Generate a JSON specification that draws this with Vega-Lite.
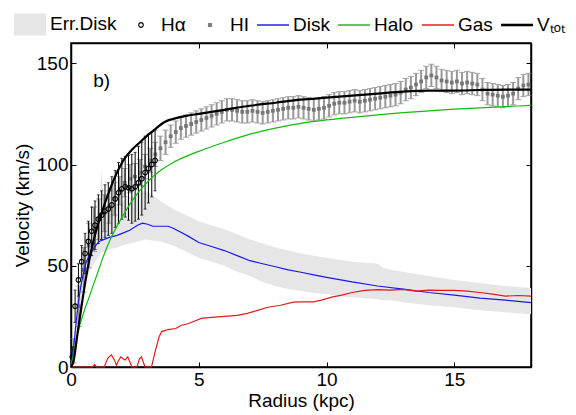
{
  "$schema": "https://vega.github.io/schema/vega-lite/v6.json",
  "width": 460,
  "height": 324,
  "autosize": {"type": "none"},
  "padding": {"left": 71, "top": 43, "right": 45, "bottom": 48},
  "background": "white",
  "config": {
    "font": "Liberation Sans",
    "view": {"stroke": "black", "strokeWidth": 1.5},
    "style": {"guide-title": {"fontWeight": "normal"}, "guide-label": {"fontWeight": "normal"}},
    "axis": {
      "domainColor": "black", "domainWidth": 1.5, "tickColor": "black", "tickSize": -5, "tickWidth": 1,
      "labelFontSize": 19, "labelColor": "black", "labelFont": "Liberation Sans", "labelPadding": 8,
      "titleFontSize": 19, "titleFontWeight": "normal", "titleColor": "black", "titleFont": "Liberation Sans",
      "grid": false, "labelFlush": false
    }
  },
  "datasets": {
    "band": [
      {"r": 0, "lo": 0, "hi": 0}, {"r": 0.1, "lo": 5, "hi": 12}, {"r": 0.2, "lo": 15, "hi": 30}, {"r": 0.3, "lo": 24, "hi": 42},
      {"r": 0.4, "lo": 32, "hi": 52}, {"r": 0.5, "lo": 38, "hi": 58}, {"r": 0.6, "lo": 43, "hi": 63}, {"r": 0.8, "lo": 49, "hi": 70},
      {"r": 1.0, "lo": 53, "hi": 75}, {"r": 1.1, "lo": 55, "hi": 78}, {"r": 1.15, "lo": 56, "hi": 90}, {"r": 1.2, "lo": 56, "hi": 97},
      {"r": 1.25, "lo": 57, "hi": 88}, {"r": 1.3, "lo": 57, "hi": 81}, {"r": 1.5, "lo": 58, "hi": 80}, {"r": 1.8, "lo": 59, "hi": 81},
      {"r": 2.0, "lo": 60, "hi": 82}, {"r": 2.3, "lo": 61, "hi": 84}, {"r": 2.6, "lo": 62, "hi": 86}, {"r": 2.9, "lo": 63, "hi": 87},
      {"r": 3.2, "lo": 62.5, "hi": 85}, {"r": 3.5, "lo": 62, "hi": 82}, {"r": 4.0, "lo": 60, "hi": 78}, {"r": 4.5, "lo": 57, "hi": 75},
      {"r": 5.0, "lo": 54, "hi": 72}, {"r": 5.5, "lo": 52, "hi": 70}, {"r": 6.0, "lo": 50, "hi": 68}, {"r": 6.5, "lo": 47, "hi": 65.5},
      {"r": 7.0, "lo": 45, "hi": 63}, {"r": 7.5, "lo": 42, "hi": 61}, {"r": 8.0, "lo": 40, "hi": 59}, {"r": 8.5, "lo": 38.5, "hi": 57.5},
      {"r": 9.0, "lo": 37.5, "hi": 56}, {"r": 9.5, "lo": 36.5, "hi": 55}, {"r": 10, "lo": 36, "hi": 54}, {"r": 10.5, "lo": 35, "hi": 53},
      {"r": 11, "lo": 34.5, "hi": 52}, {"r": 11.5, "lo": 34, "hi": 51.5}, {"r": 12, "lo": 33.5, "hi": 51}, {"r": 12.2, "lo": 33, "hi": 49},
      {"r": 12.5, "lo": 33, "hi": 48}, {"r": 13, "lo": 32, "hi": 47}, {"r": 14, "lo": 30.5, "hi": 45}, {"r": 15, "lo": 29.5, "hi": 43},
      {"r": 16, "lo": 28, "hi": 41.5}, {"r": 17, "lo": 27, "hi": 40}, {"r": 18, "lo": 26, "hi": 39}
    ],
    "curves": [
      {"s": "Disk", "r": 0, "v": 0}, {"s": "Disk", "r": 0.1, "v": 9}, {"s": "Disk", "r": 0.2, "v": 22}, {"s": "Disk", "r": 0.3, "v": 33},
      {"s": "Disk", "r": 0.4, "v": 41}, {"s": "Disk", "r": 0.5, "v": 47}, {"s": "Disk", "r": 0.6, "v": 52}, {"s": "Disk", "r": 0.75, "v": 56},
      {"s": "Disk", "r": 0.9, "v": 59}, {"s": "Disk", "r": 1.1, "v": 62}, {"s": "Disk", "r": 1.3, "v": 63}, {"s": "Disk", "r": 1.5, "v": 64},
      {"s": "Disk", "r": 1.8, "v": 65}, {"s": "Disk", "r": 2.0, "v": 66}, {"s": "Disk", "r": 2.3, "v": 67.5}, {"s": "Disk", "r": 2.6, "v": 70},
      {"s": "Disk", "r": 2.8, "v": 71}, {"s": "Disk", "r": 3.0, "v": 70.5}, {"s": "Disk", "r": 3.2, "v": 69.5}, {"s": "Disk", "r": 3.5, "v": 69.5},
      {"s": "Disk", "r": 3.8, "v": 69.5}, {"s": "Disk", "r": 4.0, "v": 68.5}, {"s": "Disk", "r": 4.3, "v": 66.5}, {"s": "Disk", "r": 4.6, "v": 64.5},
      {"s": "Disk", "r": 5.0, "v": 61.5}, {"s": "Disk", "r": 5.5, "v": 59.5}, {"s": "Disk", "r": 6.0, "v": 57.5}, {"s": "Disk", "r": 6.5, "v": 55},
      {"s": "Disk", "r": 7.0, "v": 52.5}, {"s": "Disk", "r": 7.5, "v": 51}, {"s": "Disk", "r": 8.0, "v": 49.5}, {"s": "Disk", "r": 8.5, "v": 48},
      {"s": "Disk", "r": 9.0, "v": 46.8}, {"s": "Disk", "r": 9.5, "v": 45.5}, {"s": "Disk", "r": 10, "v": 44.3}, {"s": "Disk", "r": 11, "v": 42},
      {"s": "Disk", "r": 12, "v": 40}, {"s": "Disk", "r": 13, "v": 38.5}, {"s": "Disk", "r": 14, "v": 36.8}, {"s": "Disk", "r": 15, "v": 35.5},
      {"s": "Disk", "r": 16, "v": 34}, {"s": "Disk", "r": 17, "v": 33}, {"s": "Disk", "r": 18, "v": 31.8},

      {"s": "Halo", "r": 0, "v": 0}, {"s": "Halo", "r": 0.25, "v": 16}, {"s": "Halo", "r": 0.5, "v": 27}, {"s": "Halo", "r": 0.75, "v": 36},
      {"s": "Halo", "r": 1.0, "v": 45}, {"s": "Halo", "r": 1.25, "v": 54}, {"s": "Halo", "r": 1.5, "v": 62}, {"s": "Halo", "r": 2.0, "v": 74},
      {"s": "Halo", "r": 2.5, "v": 84}, {"s": "Halo", "r": 3.0, "v": 91.5}, {"s": "Halo", "r": 3.5, "v": 97}, {"s": "Halo", "r": 4.0, "v": 101},
      {"s": "Halo", "r": 4.5, "v": 104}, {"s": "Halo", "r": 5.0, "v": 106.5}, {"s": "Halo", "r": 6.0, "v": 111}, {"s": "Halo", "r": 7.0, "v": 115},
      {"s": "Halo", "r": 8.0, "v": 118}, {"s": "Halo", "r": 9.0, "v": 120.3}, {"s": "Halo", "r": 10, "v": 122}, {"s": "Halo", "r": 11, "v": 123.3},
      {"s": "Halo", "r": 12, "v": 124.5}, {"s": "Halo", "r": 13, "v": 125.6}, {"s": "Halo", "r": 14, "v": 126.5}, {"s": "Halo", "r": 15, "v": 127.3},
      {"s": "Halo", "r": 16, "v": 128}, {"s": "Halo", "r": 17, "v": 128.6}, {"s": "Halo", "r": 18, "v": 129.2},

      {"s": "Gas", "r": 0, "v": 0}, {"s": "Gas", "r": 0.85, "v": 0}, {"s": "Gas", "r": 0.92, "v": 1.2}, {"s": "Gas", "r": 1.0, "v": 0},
      {"s": "Gas", "r": 1.3, "v": 0}, {"s": "Gas", "r": 1.45, "v": 4.5}, {"s": "Gas", "r": 1.58, "v": 6}, {"s": "Gas", "r": 1.7, "v": 3.5},
      {"s": "Gas", "r": 1.78, "v": 0.8}, {"s": "Gas", "r": 1.85, "v": 3}, {"s": "Gas", "r": 1.95, "v": 5}, {"s": "Gas", "r": 2.05, "v": 4},
      {"s": "Gas", "r": 2.12, "v": 3.5}, {"s": "Gas", "r": 2.22, "v": 5}, {"s": "Gas", "r": 2.32, "v": 2}, {"s": "Gas", "r": 2.38, "v": 0},
      {"s": "Gas", "r": 2.58, "v": 0}, {"s": "Gas", "r": 2.68, "v": 4}, {"s": "Gas", "r": 2.76, "v": 5}, {"s": "Gas", "r": 2.84, "v": 2},
      {"s": "Gas", "r": 2.9, "v": 0}, {"s": "Gas", "r": 3.15, "v": 0}, {"s": "Gas", "r": 3.3, "v": 8}, {"s": "Gas", "r": 3.45, "v": 15},
      {"s": "Gas", "r": 3.55, "v": 17.5}, {"s": "Gas", "r": 3.8, "v": 18.5}, {"s": "Gas", "r": 4.1, "v": 19}, {"s": "Gas", "r": 4.3, "v": 20.5},
      {"s": "Gas", "r": 4.6, "v": 21.5}, {"s": "Gas", "r": 4.8, "v": 22.5}, {"s": "Gas", "r": 5.1, "v": 24}, {"s": "Gas", "r": 5.5, "v": 24.5},
      {"s": "Gas", "r": 6.0, "v": 25}, {"s": "Gas", "r": 6.5, "v": 25.5}, {"s": "Gas", "r": 6.9, "v": 26.5}, {"s": "Gas", "r": 7.3, "v": 28},
      {"s": "Gas", "r": 7.7, "v": 29.5}, {"s": "Gas", "r": 8.2, "v": 30.5}, {"s": "Gas", "r": 8.7, "v": 32}, {"s": "Gas", "r": 9.0, "v": 32.2},
      {"s": "Gas", "r": 9.5, "v": 32.2}, {"s": "Gas", "r": 9.8, "v": 33}, {"s": "Gas", "r": 10.2, "v": 34.5}, {"s": "Gas", "r": 10.6, "v": 35.5},
      {"s": "Gas", "r": 11.0, "v": 36.8}, {"s": "Gas", "r": 11.5, "v": 37.8}, {"s": "Gas", "r": 12.0, "v": 38.2}, {"s": "Gas", "r": 12.5, "v": 38},
      {"s": "Gas", "r": 13, "v": 38.3}, {"s": "Gas", "r": 13.5, "v": 37.5}, {"s": "Gas", "r": 14, "v": 38}, {"s": "Gas", "r": 14.5, "v": 37.8},
      {"s": "Gas", "r": 15, "v": 37.8}, {"s": "Gas", "r": 15.5, "v": 37.5}, {"s": "Gas", "r": 16, "v": 36.8}, {"s": "Gas", "r": 16.5, "v": 36},
      {"s": "Gas", "r": 17, "v": 35}, {"s": "Gas", "r": 17.5, "v": 35.3}, {"s": "Gas", "r": 18, "v": 35},

      {"s": "Vtot", "r": 0, "v": 0}, {"s": "Vtot", "r": 0.1, "v": 3}, {"s": "Vtot", "r": 0.25, "v": 16}, {"s": "Vtot", "r": 0.4, "v": 29},
      {"s": "Vtot", "r": 0.6, "v": 45}, {"s": "Vtot", "r": 0.8, "v": 58}, {"s": "Vtot", "r": 1.0, "v": 68}, {"s": "Vtot", "r": 1.25, "v": 78},
      {"s": "Vtot", "r": 1.5, "v": 87}, {"s": "Vtot", "r": 1.8, "v": 96}, {"s": "Vtot", "r": 2.1, "v": 103}, {"s": "Vtot", "r": 2.4, "v": 107.5},
      {"s": "Vtot", "r": 2.7, "v": 111}, {"s": "Vtot", "r": 3.0, "v": 114.5}, {"s": "Vtot", "r": 3.3, "v": 117.5}, {"s": "Vtot", "r": 3.6, "v": 120.5},
      {"s": "Vtot", "r": 3.8, "v": 121.8}, {"s": "Vtot", "r": 4.0, "v": 122.5}, {"s": "Vtot", "r": 4.5, "v": 124}, {"s": "Vtot", "r": 5, "v": 125}, {"s": "Vtot", "r": 6, "v": 127},
      {"s": "Vtot", "r": 7, "v": 129}, {"s": "Vtot", "r": 8, "v": 130.5}, {"s": "Vtot", "r": 9, "v": 132}, {"s": "Vtot", "r": 10, "v": 133},
      {"s": "Vtot", "r": 11, "v": 134}, {"s": "Vtot", "r": 12, "v": 135}, {"s": "Vtot", "r": 13, "v": 136}, {"s": "Vtot", "r": 14, "v": 136.5},
      {"s": "Vtot", "r": 15, "v": 136.5}, {"s": "Vtot", "r": 16, "v": 136.8}, {"s": "Vtot", "r": 17, "v": 137}, {"s": "Vtot", "r": 18, "v": 137}
    ],
    "hi": [
      {"r": 0.1, "v": 8, "e": 6}, {"r": 0.3, "v": 30, "e": 10}, {"r": 0.5, "v": 48, "e": 11}, {"r": 0.7, "v": 60, "e": 11},
      {"r": 0.9, "v": 68, "e": 11}, {"r": 1.1, "v": 73, "e": 10}, {"r": 1.3, "v": 76, "e": 9}, {"r": 1.5, "v": 79, "e": 8},
      {"r": 1.7, "v": 83, "e": 8}, {"r": 1.9, "v": 87, "e": 7}, {"r": 2.1, "v": 91, "e": 7}, {"r": 2.3, "v": 93, "e": 7},
      {"r": 2.5, "v": 94, "e": 6.5}, {"r": 2.7, "v": 96, "e": 6.5}, {"r": 2.9, "v": 99, "e": 6}, {"r": 3.1, "v": 102, "e": 6},
      {"r": 3.3, "v": 105, "e": 6}, {"r": 3.5, "v": 108, "e": 6}, {"r": 3.7, "v": 111, "e": 6}, {"r": 3.9, "v": 114, "e": 5.5},
      {"r": 4.1, "v": 116, "e": 5.5}, {"r": 4.3, "v": 118, "e": 5.5}, {"r": 4.5, "v": 119, "e": 5.5}, {"r": 4.7, "v": 120, "e": 5.5},
      {"r": 4.9, "v": 121, "e": 5.5}, {"r": 5.1, "v": 122, "e": 5.5}, {"r": 5.3, "v": 123, "e": 5.5}, {"r": 5.5, "v": 124, "e": 5.5},
      {"r": 5.7, "v": 125, "e": 5.5}, {"r": 5.9, "v": 126, "e": 5.5}, {"r": 6.1, "v": 127, "e": 5.5}, {"r": 6.3, "v": 127, "e": 5.5},
      {"r": 6.5, "v": 126.5, "e": 5.5}, {"r": 6.7, "v": 126, "e": 5.5}, {"r": 6.9, "v": 126, "e": 5.5}, {"r": 7.1, "v": 126.5, "e": 5.5},
      {"r": 7.3, "v": 126, "e": 5.5}, {"r": 7.5, "v": 125.5, "e": 5.5}, {"r": 7.7, "v": 126, "e": 5.5}, {"r": 7.9, "v": 126.5, "e": 5.5},
      {"r": 8.1, "v": 127, "e": 5.5}, {"r": 8.3, "v": 127.5, "e": 5.5}, {"r": 8.5, "v": 128, "e": 5.5}, {"r": 8.7, "v": 128, "e": 5.5},
      {"r": 8.9, "v": 128.5, "e": 5.5}, {"r": 9.1, "v": 128, "e": 5.5}, {"r": 9.3, "v": 127.5, "e": 5.5}, {"r": 9.5, "v": 127, "e": 5.5},
      {"r": 9.7, "v": 127.5, "e": 5.5}, {"r": 9.9, "v": 128, "e": 5.5}, {"r": 10.1, "v": 129, "e": 5.5}, {"r": 10.3, "v": 130, "e": 5.5},
      {"r": 10.5, "v": 130.5, "e": 5.5}, {"r": 10.7, "v": 130.5, "e": 5.5}, {"r": 10.9, "v": 131, "e": 5.5}, {"r": 11.1, "v": 131.5, "e": 5.5},
      {"r": 11.3, "v": 131, "e": 5.5}, {"r": 11.5, "v": 131.5, "e": 5.5}, {"r": 11.7, "v": 132, "e": 5.5}, {"r": 11.9, "v": 132.5, "e": 5.5},
      {"r": 12.1, "v": 133, "e": 5.5}, {"r": 12.3, "v": 133.5, "e": 5.5}, {"r": 12.5, "v": 134, "e": 5.5}, {"r": 12.7, "v": 134.5, "e": 5.5},
      {"r": 12.9, "v": 135.5, "e": 5.5}, {"r": 13.1, "v": 137, "e": 5.5}, {"r": 13.3, "v": 138, "e": 5.5}, {"r": 13.5, "v": 139.5, "e": 5.5},
      {"r": 13.7, "v": 141, "e": 5.5}, {"r": 13.9, "v": 143, "e": 5.5}, {"r": 14.1, "v": 144, "e": 5.5}, {"r": 14.3, "v": 143, "e": 5.5},
      {"r": 14.5, "v": 141.5, "e": 5.5}, {"r": 14.7, "v": 141, "e": 5.5}, {"r": 14.9, "v": 140.5, "e": 5.5}, {"r": 15.1, "v": 141, "e": 5.5},
      {"r": 15.3, "v": 140, "e": 5.5}, {"r": 15.5, "v": 140.5, "e": 5.5}, {"r": 15.7, "v": 140, "e": 5.5}, {"r": 15.9, "v": 139.5, "e": 5.5},
      {"r": 16.1, "v": 137, "e": 5.5}, {"r": 16.3, "v": 135, "e": 5.5}, {"r": 16.5, "v": 134.5, "e": 5.5}, {"r": 16.7, "v": 134, "e": 5.5},
      {"r": 16.9, "v": 133.5, "e": 5.5}, {"r": 17.1, "v": 134, "e": 5.5}, {"r": 17.3, "v": 135, "e": 5.5}, {"r": 17.5, "v": 137.5, "e": 5.5},
      {"r": 17.7, "v": 139, "e": 5.5}, {"r": 17.9, "v": 139.5, "e": 5.5}
    ],
    "ha": [
      {"s": "Hα", "r": 0.05, "v": 5, "e": 5}, {"s": "Hα", "r": 0.16, "v": 30, "e": 8}, {"s": "Hα", "r": 0.29, "v": 43, "e": 8},
      {"s": "Hα", "r": 0.42, "v": 52, "e": 8}, {"s": "Hα", "r": 0.55, "v": 56, "e": 10}, {"s": "Hα", "r": 0.68, "v": 62, "e": 10},
      {"s": "Hα", "r": 0.81, "v": 67, "e": 12}, {"s": "Hα", "r": 0.94, "v": 70, "e": 12}, {"s": "Hα", "r": 1.07, "v": 73, "e": 12},
      {"s": "Hα", "r": 1.2, "v": 75, "e": 12}, {"s": "Hα", "r": 1.33, "v": 77, "e": 13}, {"s": "Hα", "r": 1.46, "v": 78, "e": 13},
      {"s": "Hα", "r": 1.6, "v": 80, "e": 14}, {"s": "Hα", "r": 1.73, "v": 83, "e": 14}, {"s": "Hα", "r": 1.86, "v": 86, "e": 15},
      {"s": "Hα", "r": 1.99, "v": 88, "e": 15}, {"s": "Hα", "r": 2.12, "v": 89, "e": 15}, {"s": "Hα", "r": 2.25, "v": 88.5, "e": 16},
      {"s": "Hα", "r": 2.38, "v": 88, "e": 17}, {"s": "Hα", "r": 2.51, "v": 89, "e": 17}, {"s": "Hα", "r": 2.64, "v": 91, "e": 18},
      {"s": "Hα", "r": 2.77, "v": 93, "e": 18}, {"s": "Hα", "r": 2.9, "v": 96, "e": 18}, {"s": "Hα", "r": 3.03, "v": 98, "e": 17},
      {"s": "Hα", "r": 3.16, "v": 100, "e": 16}, {"s": "Hα", "r": 3.29, "v": 102, "e": 15}
    ],
    "note": [{"r": 1.2, "v": 141, "t": "b)"}]
  },
  "layer": [
    {
      "layer": [
        {
          "data": {"name": "band"},
          "mark": {"type": "area", "color": "#e6e6e6", "opacity": 1},
          "encoding": {
            "x": {"field": "r", "type": "quantitative", "title": "Radius (kpc)", "scale": {"domain": [0, 18], "nice": false},
                  "axis": {"values": [0, 5, 10, 15], "titlePadding": 2, "titleFontWeight": 400,
                           "encode": {"title": {"update": {"fontWeight": {"value": "normal"}}}}}},
            "y": {"field": "lo", "type": "quantitative", "title": "Velocity (km/s)", "scale": {"domain": [0, 160], "nice": false},
                  "axis": {"values": [0, 50, 100, 150], "labelPadding": 8, "titlePadding": 4, "titleFontWeight": 400,
                           "encode": {"title": {"update": {"fontWeight": {"value": "normal"}}}}}},
            "y2": {"field": "hi"}
          }
        },
        {
          "data": {"name": "hi"},
          "mark": {"type": "errorbar", "rule": {"color": "#999999", "strokeWidth": 2}, "ticks": {"color": "#808080", "size": 6}},
          "encoding": {
            "x": {"field": "r", "type": "quantitative", "title": "Radius (kpc)"},
            "y": {"field": "v", "type": "quantitative", "title": "Velocity (km/s)"},
            "yError": {"field": "e"}
          }
        },
        {
          "data": {"name": "hi"},
          "mark": {"type": "square", "color": "#767676", "size": 14, "opacity": 1},
          "encoding": {
            "x": {"field": "r", "type": "quantitative", "title": "Radius (kpc)"},
            "y": {"field": "v", "type": "quantitative", "title": "Velocity (km/s)"}
          }
        },
        {
          "data": {"name": "ha"},
          "mark": {"type": "errorbar", "rule": {"color": "black", "strokeWidth": 1}, "ticks": {"color": "black", "size": 3}},
          "encoding": {
            "x": {"field": "r", "type": "quantitative", "title": "Radius (kpc)"},
            "y": {"field": "v", "type": "quantitative", "title": "Velocity (km/s)"},
            "yError": {"field": "e"}
          }
        },
        {
          "data": {"name": "ha"},
          "mark": {"type": "point", "filled": true, "size": 1024, "opacity": 1, "strokeWidth": 0},
          "encoding": {
            "x": {"field": "r", "type": "quantitative", "title": "Radius (kpc)"},
            "y": {"field": "v", "type": "quantitative", "title": "Velocity (km/s)"},
            "color": {
              "field": "s", "type": "nominal",
              "scale": {"domain": ["Err.Disk", "Hα", "HI", "Disk", "Halo", "Gas", "Vₜₒₜ"],
                        "range": ["#e6e6e6", "black", "#808080", "#1a1aee", "#11bb11", "#e31a1a", "black"]},
              "legend": {
                "orient": "none", "legendX": -57, "legendY": -35, "direction": "horizontal", "title": null,
                "labelFontSize": 19, "labelFont": "Liberation Sans", "labelColor": "black", "columnPadding": 8,
                "labelOffset": 4, "symbolSize": 1024, "symbolOpacity": 1, "symbolStrokeWidth": 0, "padding": 0
              }
            },
            "shape": {
              "field": "s", "type": "nominal",
              "scale": {"domain": ["Err.Disk", "Hα", "HI", "Disk", "Halo", "Gas", "Vₜₒₜ"],
                        "range": [
                          "M-1,-0.69H1V0.69H-1Z",
                          "M-0.18,0A0.18,0.18 0 1,0 0.18,0A0.18,0.18 0 1,0 -0.18,0ZM-0.11,0A0.11,0.11 0 1,1 0.11,0A0.11,0.11 0 1,1 -0.11,0Z",
                          "M-0.13,-0.13H0.13V0.13H-0.13Z",
                          "M-1,-0.045H1V0.045H-1Z",
                          "M-1,-0.045H1V0.045H-1Z",
                          "M-1,-0.045H1V0.045H-1Z",
                          "M-1,-0.08H1V0.08H-1Z"
                        ]},
              "legend": {
                "orient": "none", "legendX": -57, "legendY": -35, "direction": "horizontal", "title": null,
                "labelFontSize": 19, "labelFont": "Liberation Sans", "labelColor": "black", "columnPadding": 8,
                "labelOffset": 4, "symbolSize": 1024, "symbolOpacity": 1, "symbolStrokeWidth": 0, "padding": 0
              }
            }
          }
        },
        {
          "data": {"name": "curves"},
          "transform": [{"filter": "datum.s === 'Disk'"}],
          "mark": {"type": "line", "color": "#1a1aee", "strokeWidth": 1.2},
          "encoding": {"x": {"field": "r", "type": "quantitative", "title": "Radius (kpc)"}, "y": {"field": "v", "type": "quantitative", "title": "Velocity (km/s)"}}
        },
        {
          "data": {"name": "curves"},
          "transform": [{"filter": "datum.s === 'Halo'"}],
          "mark": {"type": "line", "color": "#11bb11", "strokeWidth": 1.2, "interpolate": "monotone"},
          "encoding": {"x": {"field": "r", "type": "quantitative", "title": "Radius (kpc)"}, "y": {"field": "v", "type": "quantitative", "title": "Velocity (km/s)"}}
        },
        {
          "data": {"name": "curves"},
          "transform": [{"filter": "datum.s === 'Gas'"}],
          "mark": {"type": "line", "color": "#e31a1a", "strokeWidth": 1.2},
          "encoding": {"x": {"field": "r", "type": "quantitative", "title": "Radius (kpc)"}, "y": {"field": "v", "type": "quantitative", "title": "Velocity (km/s)"}}
        },
        {
          "data": {"name": "curves"},
          "transform": [{"filter": "datum.s === 'Vtot'"}],
          "mark": {"type": "line", "color": "black", "strokeWidth": 2.2, "interpolate": "monotone"},
          "encoding": {"x": {"field": "r", "type": "quantitative", "title": "Radius (kpc)"}, "y": {"field": "v", "type": "quantitative", "title": "Velocity (km/s)"}}
        }
      ]
    },
    {
      "data": {"name": "note"},
      "mark": {"type": "text", "fontSize": 19, "font": "Liberation Sans", "color": "black"},
      "encoding": {
        "x": {"field": "r", "type": "quantitative", "scale": {"domain": [0, 18], "nice": false},
              "axis": {"orient": "top", "values": [0, 5, 10, 15], "labels": false, "title": null}},
        "y": {"field": "v", "type": "quantitative", "scale": {"domain": [0, 160], "nice": false},
              "axis": {"orient": "right", "values": [0, 50, 100, 150], "labels": false, "title": null}},
        "text": {"field": "t"}
      }
    }
  ],
  "resolve": {"axis": {"x": "independent", "y": "independent"}}
}
